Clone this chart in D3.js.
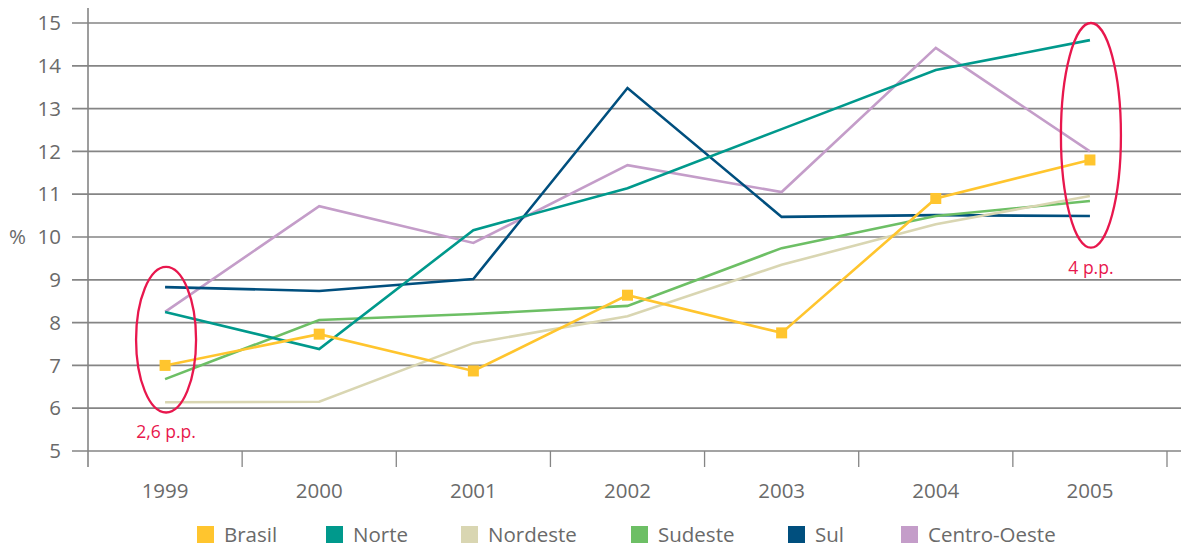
<!DOCTYPE html>
<html><head><meta charset="utf-8">
<script src="https://cdn.jsdelivr.net/npm/d3@7"></script>
<style>
html,body{margin:0;padding:0;background:#fff;}
svg{display:block;font-family:"Open Sans","Noto Sans",sans-serif;}
</style></head>
<body><svg id="c" width="1181" height="547"></svg>
<script>
const years = ["1999","2000","2001","2002","2003","2004","2005"];
const yTicks = [5,6,7,8,9,10,11,12,13,14,15];
const brasil = [7.0, 7.73, 6.87, 8.64, 7.76, 10.9, 11.8];
const norte = [8.25, 7.38, 10.16, 11.14, 12.52, 13.9, 14.6];
const nordeste = [6.14, 6.15, 7.52, 8.15, 9.35, 10.3, 10.96];
const sudeste = [6.68, 8.06, 8.2, 8.39, 9.74, 10.49, 10.84];
const sul = [8.83, 8.74, 9.02, 13.48, 10.47, 10.51, 10.49];
const centroOeste = [8.25, 10.72, 9.86, 11.68, 11.05, 14.42, 12.0];
const seriesNames = ["Brasil","Norte","Nordeste","Sudeste","Sul","Centro-Oeste"];
const seriesColors = ["#FFC52E","#00998C","#D9D6B2","#6DBF65","#004F7E","#C49DC9"];
const annotations = [{year:"1999", lo:5.9, hi:9.3, label:"2,6 p.p."},{year:"2005", lo:9.75, hi:15.0, label:"4 p.p."}];

const seriesData = [brasil, norte, nordeste, sudeste, sul, centroOeste];
const svg = d3.select("#c");
const x = d3.scaleBand().domain(years).range([88,1167]).padding(0);
const y = d3.scaleLinear().domain([5,15]).range([451,23]);
const cx = d => x(d) + x.bandwidth()/2;
const grey = "#6a6a6a";

// grid lines
svg.append("g").selectAll("line").data(yTicks).join("line")
  .attr("x1",72).attr("x2",1181).attr("y1",d=>y(d)).attr("y2",d=>y(d))
  .attr("stroke","#858585").attr("stroke-width",1.7);
// y axis vertical
svg.append("line").attr("x1",88).attr("x2",88).attr("y1",8).attr("y2",467)
  .attr("stroke","#858585").attr("stroke-width",1.6);
// y tick labels
svg.append("g").selectAll("text").data(yTicks).join("text")
  .attr("x",61).attr("y",d=>y(d)).attr("dy","0.35em").attr("text-anchor","end")
  .attr("font-size",20.5).attr("fill",grey).text(d=>d);
svg.append("text").attr("x",9).attr("y",y(10)).attr("dy","0.35em")
  .attr("font-size",20.5).attr("fill",grey).text("%");

// x axis ticks
const xb = x.domain().map(d=>x(d)).concat([x.range()[1]]);
svg.append("g").selectAll("line").data(xb.slice(1)).join("line")
  .attr("x1",d=>d).attr("x2",d=>d).attr("y1",451).attr("y2",467)
  .attr("stroke","#858585").attr("stroke-width",1.3);
svg.append("g").selectAll("text").data(years).join("text")
  .attr("x",d=>cx(d)).attr("y",498).attr("text-anchor","middle")
  .attr("font-size",20.5).attr("fill",grey).text(d=>d);

// lines (Brasil drawn last)
const line = d3.line().x((d,i)=>cx(years[i])).y(d=>y(d));
const order = [5,4,3,2,1,0];
order.forEach(k=>{
  svg.append("path").datum(seriesData[k]).attr("d",line)
    .attr("fill","none").attr("stroke",seriesColors[k]).attr("stroke-width",2.6)
    .attr("stroke-linejoin","miter");
});
svg.append("g").selectAll("rect").data(brasil).join("rect")
  .attr("x",(d,i)=>cx(years[i])-5.5).attr("y",d=>y(d)-5.5)
  .attr("width",11).attr("height",11).attr("fill",seriesColors[0]);

// annotations
annotations.forEach(a=>{
  const c = cx(a.year)+1;
  const top = y(a.hi), bot = y(a.lo);
  svg.append("ellipse").attr("cx",c).attr("cy",(top+bot)/2)
    .attr("rx",30).attr("ry",(bot-top)/2)
    .attr("fill","none").attr("stroke","#E8174D").attr("stroke-width",2.3);
  svg.append("text").attr("x",c).attr("y",bot+26).attr("text-anchor","middle")
    .attr("font-size",17.5).attr("fill","#E8174D").text(a.label);
});

// legend
const legX = [197,326,461,631,788,901];
const lg = svg.append("g").selectAll("g").data(seriesNames).join("g")
  .attr("transform",(d,i)=>`translate(${legX[i]},0)`);
lg.append("rect").attr("x",0).attr("y",526).attr("width",17).attr("height",17)
  .attr("fill",(d,i)=>seriesColors[i]);
lg.append("text").attr("x",27).attr("y",535).attr("dy","0.35em")
  .attr("font-size",20.5).attr("fill",grey).text(d=>d);
</script></body></html>
